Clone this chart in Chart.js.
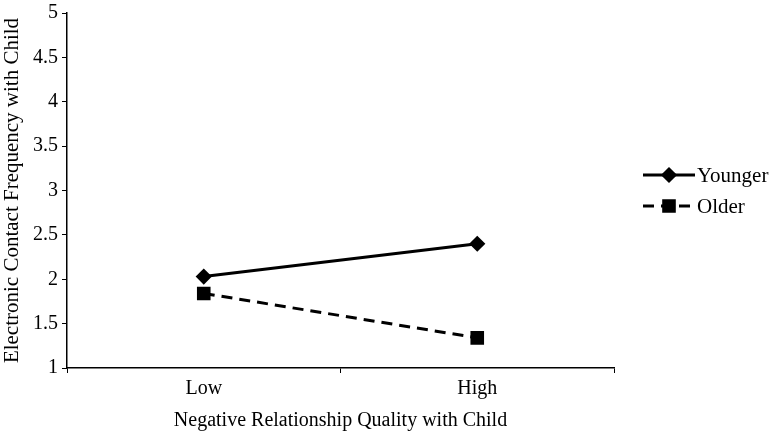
<!DOCTYPE html>
<html>
<head>
<meta charset="utf-8">
<script src="https://cdn.jsdelivr.net/npm/chart.js@4/dist/chart.umd.min.js"></script>
<style>
  html, body { margin: 0; padding: 0; background: #fff; }
  #wrap { width: 780px; height: 434px; }
</style>
</head>
<body>
<div id="wrap"><canvas id="c"></canvas></div>
<script>
// data
const categories = ['Low', 'High'];
const younger = [2.03, 2.40];
const older = [1.84, 1.34];
const yTicks = [1, 1.5, 2, 2.5, 3, 3.5, 4, 4.5, 5];
const yTickLabels = ['1', '1.5', '2', '2.5', '3', '3.5', '4', '4.5', '5'];

const FONT = '"Liberation Serif", "Times New Roman", serif';

// legend on the right: line + marker + label, like the source
const sideLegend = {
  id: 'sideLegend',
  afterDraw(chart) {
    const ctx = chart.ctx;
    const x0 = chart.chartArea.right + 29;
    const rows = [175, 206];
    chart.data.datasets.forEach((ds, i) => {
      const y = rows[i];
      ctx.save();
      ctx.strokeStyle = ds.borderColor;
      ctx.lineWidth = ds.borderWidth;
      ctx.setLineDash(ds.borderDash || []);
      ctx.beginPath(); ctx.moveTo(x0, y); ctx.lineTo(x0 + 52, y); ctx.stroke();
      ctx.setLineDash([]);
      Chart.helpers.drawPoint(ctx, { pointStyle: ds.pointStyle, radius: ds.pointRadius, borderWidth: 1 }, x0 + 26, y);
      ctx.fillStyle = '#000';
      ctx.fill();
      ctx.font = '21px ' + FONT;
      ctx.textBaseline = 'middle';
      ctx.fillText(ds.label, x0 + 54, y + 1);
      ctx.restore();
    });
  }
};

new Chart(document.getElementById('c'), {
  type: 'line',
  data: {
    labels: categories,
    datasets: [
      { label: 'Younger', data: younger, borderColor: '#000', backgroundColor: '#000', borderWidth: 3,
        pointStyle: 'rectRot', pointRadius: 6, pointHoverRadius: 6, tension: 0 },
      { label: 'Older', data: older, borderColor: '#000', backgroundColor: '#000', borderWidth: 3, borderDash: [11, 7],
        pointStyle: 'rect', pointRadius: 7.5, pointHoverRadius: 7.5, tension: 0 }
    ]
  },
  options: {
    responsive: true, maintainAspectRatio: false, animation: false,
    layout: { padding: { top: 10, right: 166, left: 0, bottom: 0 } },
    plugins: { legend: { display: false }, tooltip: { enabled: false } },
    scales: {
      x: {
        offset: true,
        grid: { offset: true, drawOnChartArea: false, color: '#000', tickLength: 5, tickColor: '#000' },
        border: { color: '#000', width: 1.5 },
        ticks: { color: '#000', font: { family: FONT, size: 20 }, padding: 4 },
        title: { display: true, text: 'Negative Relationship Quality with Child', color: '#000',
                 font: { family: FONT, size: 20 }, padding: { top: 0, bottom: 1 } },
        afterFit(s) { s.height = 66; }
      },
      y: {
        min: 1, max: 5,
        afterBuildTicks(s) { s.ticks = yTicks.map(v => ({ value: v })); },
        grid: { drawOnChartArea: false, color: '#000', tickLength: 5, tickColor: '#000' },
        border: { color: '#000', width: 1.5 },
        ticks: { color: '#000', font: { family: FONT, size: 20, lineHeight: 0.9 }, padding: 4,
                 callback: (v, i) => yTickLabels[i] },
        title: { display: true, text: 'Electronic Contact Frequency with Child', color: '#000',
                 font: { family: FONT, size: 21 }, padding: { top: 0, bottom: 0 } },
        afterFit(s) { s.width = 67; }
      }
    }
  },
  plugins: [sideLegend]
});
</script>
</body>
</html>
